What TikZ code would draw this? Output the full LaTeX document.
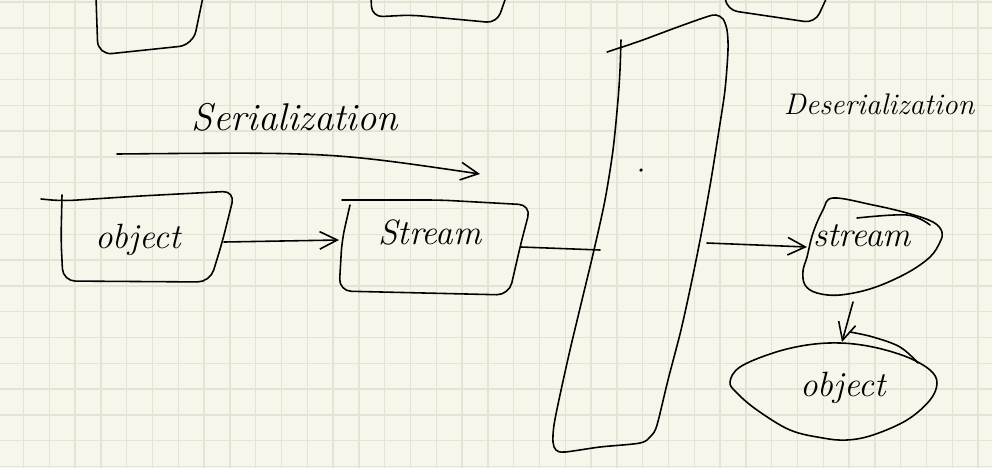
\documentclass[tikz,border=0pt]{standalone}
\usepackage{tikz}
\usetikzlibrary{arrows.meta}
\definecolor{paper}{HTML}{F8F6EA}
\definecolor{gridtint}{HTML}{E5E3D5}
\begin{document}
\begin{tikzpicture}[x=0.02cm,y=-0.02cm,
    >={Straight Barb[length=10pt,width=10pt]},
    pen/.style={black,line width=0.9pt,line cap=round,line join=round},
    every node/.style={inner sep=0pt,font=\fontsize{20}{24}\selectfont\itshape}]
  \useasboundingbox (0,0) rectangle (992,468);
  \fill[paper] (0,0) rectangle (992,468);
  % squared paper
  \foreach \gx in {0,...,37}
    \draw[gridtint,line width=0.8pt] ({23.5+25.8*\gx},0) -- ({23.5+25.8*\gx},468);
  \foreach \gy in {0,...,18}
    \draw[gridtint,line width=0.8pt] (0,{2.1+25.8*\gy}) -- (992,{2.1+25.8*\gy});

  % boxes cut off at the top edge
  \draw[pen,rounded corners=8pt] (96,-3) -- (98,55) -- (193,45) -- (203,-3);
  \draw[pen,rounded corners=6pt] (371,-3) -- (372,17) -- (411,15) -- (497,23) -- (506,-3);
  \draw[pen,rounded corners=6pt] (725,-3) -- (727,10) -- (815,23) -- (827,-3);

  % the tall channel
  \draw[pen] plot[smooth,tension=0.5] coordinates {(607,52) (640,41) (675,28) (706,17)
    (716,15) (723,19) (727,30) (728,50) (725,90) (719,130) (711,180) (702,230) (692,280)
    (681,330) (668,380) (657,425) (651,436) (640,443) (600,447) (565,452) (556,450)
    (553,442) (554,425) (560,395) (570,350) (582,300) (594,250) (605,200) (613,150)
    (618,100) (620,70) (621,40)};
  \fill (641,170) circle (1pt);

  % left side boxes
  \draw[pen,rounded corners=7pt] (41,199) -- (62,201) -- (140,196) -- (235,191)
    -- (222,243) -- (210,282) -- (63,281) -- (61,240) -- (62,195);
  \draw[pen,rounded corners=7pt] (342,200) -- (440,200) -- (531,205)
    -- (521,243) -- (509,295) -- (339,291) -- (342,240) -- (350,205);

  % right side blobs
  \draw[pen] plot[smooth cycle,tension=0.6] coordinates {(833,198) (873,205) (907,213)
    (933,222) (942,232) (940,242) (930,257) (907,273) (873,288) (840,295) (817,293)
    (805,285) (803,271) (807,257) (813,233) (823,210)};
  \draw[pen] plot[smooth,tension=0.6] coordinates {(857,218) (907,215) (930,225)};
  \draw[pen] plot[smooth cycle,tension=0.6] coordinates {(730,382) (740,367) (773,353)
    (807,345) (840,343) (873,347) (907,357) (930,370) (937,383) (930,400) (907,420)
    (873,435) (847,440) (823,438) (790,430) (757,410) (737,393)};
  \draw[pen] plot[smooth,tension=0.6] coordinates {(850,332) (873,337) (900,347) (918,363)};

  % labels
  \node[font=\fontsize{22}{26}\selectfont\itshape] (ser) at (295,117) {Serialization};
  \node[font=\fontsize{17}{20}\selectfont\itshape] (deser) at (879,104) {Deserialization};
  \node (obj) at (138,240) {object};
  \node (strm) at (430,232) {Stream};
  \node (strmb) at (862,236) {stream};
  \node (objb) at (843,388) {object};

  % connector ends
  \coordinate (serA) at (117,154);
  \coordinate (serB) at (480,174);
  \coordinate (objR) at (224,242);
  \coordinate (strmL) at (339,240);
  \coordinate (strmR) at (521,247);
  \coordinate (chanL) at (600,250);
  \coordinate (chanR) at (707,243);
  \coordinate (strmbL) at (807,247);
  \coordinate (strmbB) at (853,302);
  \coordinate (objbT) at (842,342);

  \draw[pen,->] (serA) .. controls (330,152) .. (serB);
  \draw[pen,->] (objR) -- (strmL);
  \draw[pen] (strmR) -- (chanL);
  \draw[pen,->] (chanR) -- (strmbL);
  \draw[pen,->] (strmbB) -- (objbT);
\end{tikzpicture}
\end{document}
